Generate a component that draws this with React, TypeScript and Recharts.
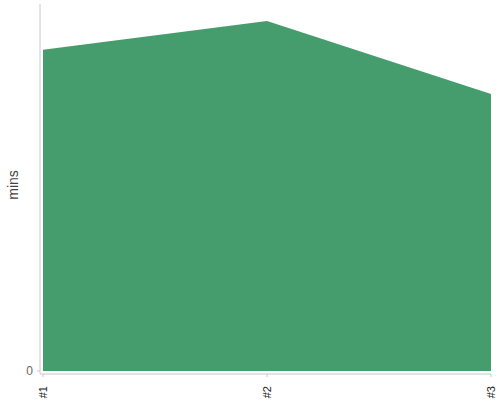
import { AreaChart, Area, XAxis, YAxis } from 'recharts'

const categories = ['#1', '#2', '#3']
const minutes = [87.5, 95.4, 75.5]
const yTicks = [0]
// small negative floor leaves a gap between the zero line and the x axis
const yDomain = [-0.82, 100]

const chartData = categories.map((name, i) => ({ name, mins: minutes[i] }))

const FONT = '"Liberation Sans", Arial, sans-serif'
const AXIS_GREY = '#c8c8c8'

function XTick({ x, y, payload }: any) {
  return (
    <g transform={`translate(${x},${y + 7})`}>
      <text
        transform="rotate(-90)"
        textAnchor="end"
        dy="0.35em"
        fontSize={11}
        fontFamily={FONT}
        fill="#222"
      >
        {payload.value}
      </text>
    </g>
  )
}

export default function App() {
  return (
    <div style={{ width: 500, height: 400 }}>
      <style>{'body{margin:0}'}</style>
      <AreaChart
        width={500}
        height={400}
        data={chartData}
        margin={{ top: 4, right: 9, left: 0, bottom: 0 }}
      >
        <XAxis
          dataKey="name"
          height={26}
          padding={{ left: 3, right: 0 }}
          tickSize={3}
          axisLine={{ stroke: AXIS_GREY }}
          tickLine={{ stroke: AXIS_GREY }}
          tick={<XTick />}
          interval={0}
        />
        <YAxis
          width={40}
          domain={yDomain}
          ticks={yTicks}
          tickSize={3}
          tickMargin={4}
          axisLine={{ stroke: AXIS_GREY }}
          tickLine={{ stroke: AXIS_GREY }}
          tick={{ fontSize: 12, fontFamily: FONT, fill: '#666' }}
          label={{
            content: ({ viewBox }: any) => {
              const lx = viewBox.x + 13
              const ly = viewBox.y + viewBox.height / 2 - 4
              return (
                <text
                  x={lx}
                  y={ly}
                  transform={`rotate(-90, ${lx}, ${ly})`}
                  textAnchor="middle"
                  dominantBaseline="central"
                  fontSize={14}
                  fontFamily={FONT}
                  fill="#444"
                >
                  mins
                </text>
              )
            },
          }}
        />
        <Area
          type="linear"
          dataKey="mins"
          baseValue={0}
          stroke="none"
          fill="#459c6d"
          fillOpacity={1}
          isAnimationActive={false}
        />
      </AreaChart>
    </div>
  )
}
